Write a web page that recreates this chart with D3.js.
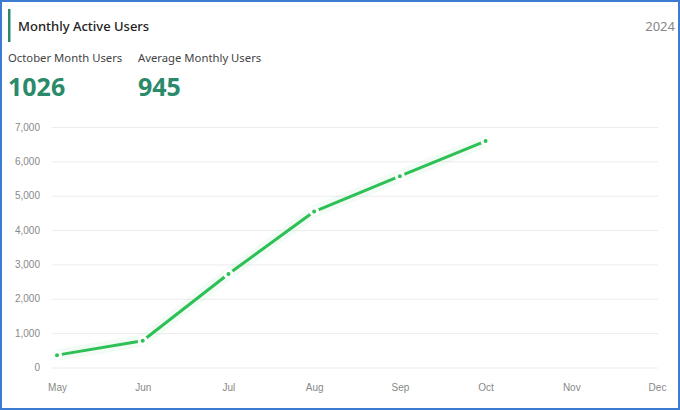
<!DOCTYPE html>
<html>
<head>
<meta charset="utf-8">
<script src="https://cdn.jsdelivr.net/npm/d3@7"></script>
<style>
  html, body { margin: 0; padding: 0; background: #fff; }
  svg { display: block; }
</style>
</head>
<body>
<script>
// Chart data
const months = ["May", "Jun", "Jul", "Aug", "Sep", "Oct", "Nov", "Dec"];
const users = [360, 780, 2720, 4540, 5570, 6590];
const yTicks = [0, 1000, 2000, 3000, 4000, 5000, 6000, 7000];
const title = "Monthly Active Users";
const year = "2024";
const statLabels = ["October Month Users", "Average Monthly Users"];
const statValues = ["1026", "945"];

const width = 680;
const height = 410;
const marginTop = 127;
const marginRight = 23;
const marginBottom = 42.5;
const marginLeft = 57;

const green = "#2cc055";
const teal = "#2a8a6a";

const svg = d3
  .select("body")
  .append("svg")
  .attr("width", width)
  .attr("height", height)
  .attr("viewBox", [0, 0, width, height]);

// Frame
svg
  .append("rect")
  .attr("x", 1)
  .attr("y", 1)
  .attr("width", width - 2)
  .attr("height", height - 2)
  .attr("fill", "#fff")
  .attr("stroke", "#3c7bd2")
  .attr("stroke-width", 2);

// Header
svg
  .append("rect")
  .attr("x", 8)
  .attr("y", 9)
  .attr("width", 2.5)
  .attr("height", 33)
  .attr("fill", teal);

svg
  .append("text")
  .attr("x", 18)
  .attr("y", 31)
  .attr("font-family", "'Noto Sans', sans-serif")
  .attr("font-size", 13)
  .attr("font-weight", 500)
  .attr("fill", "#222")
  .text(title);

svg
  .append("text")
  .attr("x", 675)
  .attr("y", 31)
  .attr("text-anchor", "end")
  .attr("font-family", "'Noto Sans', sans-serif")
  .attr("font-size", 13)
  .attr("fill", "#888")
  .text(year);

const statX = [8, 138];
statLabels.forEach((label, i) => {
  svg
    .append("text")
    .attr("x", statX[i])
    .attr("y", 62)
    .attr("font-family", "'Noto Sans', sans-serif")
    .attr("font-size", 11.3)
    .attr("fill", "#444")
    .text(label);
  svg
    .append("text")
    .attr("x", statX[i])
    .attr("y", 96)
    .attr("font-family", "'Noto Sans', sans-serif")
    .attr("font-size", 25)
    .attr("font-weight", 700)
    .attr("fill", teal)
    .text(statValues[i]);
});

// Scales
const x = d3.scalePoint(months, [marginLeft, width - marginRight]);
const y = d3.scaleLinear([0, 7000], [height - marginBottom, marginTop]);

// Y axis with grid lines
svg
  .append("g")
  .attr("transform", `translate(${marginLeft - 5},0)`)
  .call(
    d3
      .axisLeft(y)
      .tickValues(yTicks)
      .tickFormat(d3.format(","))
      .tickSize(0)
      .tickPadding(12),
  )
  .call((g) => g.select(".domain").remove())
  .call((g) =>
    g
      .selectAll(".tick line")
      .attr("x2", width - marginLeft - marginRight + 6)
      .attr("stroke", "#ececec"),
  )
  .call((g) =>
    g
      .selectAll(".tick text")
      .attr("fill", "#888")
      .attr("font-family", "'Liberation Sans', Arial, sans-serif")
      .attr("font-size", 10),
  );

// X axis
svg
  .append("g")
  .attr("transform", `translate(0,${height - marginBottom})`)
  .call(d3.axisBottom(x).tickSize(0).tickPadding(16))
  .call((g) => g.select(".domain").remove())
  .call((g) =>
    g
      .selectAll(".tick text")
      .attr("fill", "#888")
      .attr("font-family", "'Liberation Sans', Arial, sans-serif")
      .attr("font-size", 10),
  );

const data = users.map((v, i) => ({ month: months[i], value: v }));

const line = d3
  .line()
  .x((d) => x(d.month))
  .y((d) => y(d.value));

// Soft glow under the line
svg
  .append("path")
  .attr("fill", "none")
  .attr("stroke", green)
  .attr("stroke-opacity", 0.06)
  .attr("stroke-width", 12)
  .attr("stroke-linejoin", "round")
  .attr("d", line(data));

svg
  .append("path")
  .attr("fill", "none")
  .attr("stroke", green)
  .attr("stroke-width", 3)
  .attr("stroke-linejoin", "round")
  .attr("d", line(data));

// Points with white halo
svg
  .append("g")
  .selectAll("circle")
  .data(data)
  .join("circle")
  .attr("cx", (d) => x(d.month))
  .attr("cy", (d) => y(d.value))
  .attr("r", 3.5)
  .attr("fill", green)
  .attr("stroke", "#fff")
  .attr("stroke-width", 3);
</script>
</body>
</html>
